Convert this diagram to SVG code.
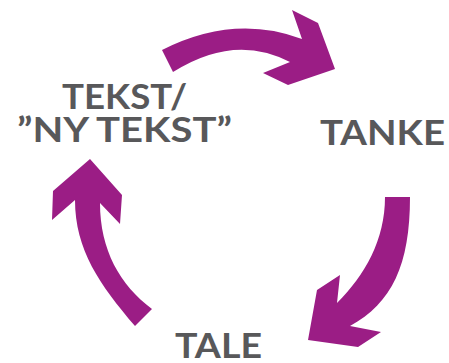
<svg xmlns="http://www.w3.org/2000/svg" width="449" height="363" viewBox="0 0 449 363">
<style>
.arrow{fill:#9b1d85;stroke:none}
.lbl{font-family:Lato,"Open Sans","Liberation Sans",sans-serif;font-weight:700;font-size:34px;fill:#58585a}
</style>
<rect width="449" height="363" fill="#ffffff"/>
<g id="connectors">
<path id="arrow-top" class="arrow" d="M162,50 Q234,13.5 302,39 L292,10 L318,23 L335,69 L288,85 L263,73 L290,62 Q234.5,33 173,72 Z"/>
<path id="arrow-right" class="arrow" d="M385,197 L410,197 C410,265 392,303 350,326 L381,332 L358,347 L308,340 L317,290 L340,275 L337,303 C365,275 385,240 385,197 Z"/>
<path id="arrow-left" class="arrow" d="M90,159 L122,195 L120,224 L100,203 C100,250 120,285 152,309 L135,326 C100,285 75,250 75,200 L52,220 L53,191 Z"/>
</g>
<g id="node-tekst">
<text class="lbl" x="62" y="109" textLength="125" lengthAdjust="spacingAndGlyphs">TEKST/</text>
<text class="lbl" x="17" y="142" textLength="215" lengthAdjust="spacingAndGlyphs">”NY TEKST”</text>
</g>
<g id="node-tanke">
<text class="lbl" x="320" y="145" textLength="125" lengthAdjust="spacingAndGlyphs">TANKE</text>
</g>
<g id="node-tale">
<text class="lbl" x="175" y="358" textLength="87" lengthAdjust="spacingAndGlyphs">TALE</text>
</g>
</svg>
